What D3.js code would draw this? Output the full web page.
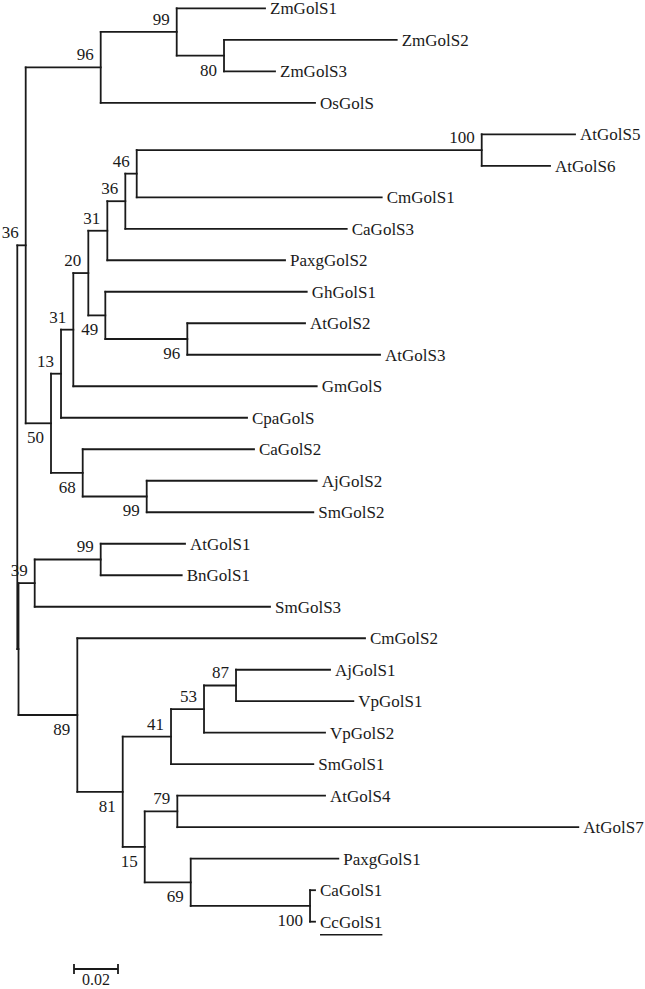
<!DOCTYPE html>
<html><head><meta charset="utf-8">
<script src="https://cdn.jsdelivr.net/npm/d3@7"></script>
<style>body{margin:0;background:#fff}</style>
</head><body>
<svg id="chart" width="645" height="989"></svg>
<script>
// Tree data (preorder): node id, parent id, branch length (substitutions/site), bootstrap
const nodeIds = ["root","n36a","n96a","n99a","ZmGolS1","n80","ZmGolS2","ZmGolS3","OsGolS",
  "n50","n13","n31b","n20","n31a","n36b","n46","n100a","AtGolS5","AtGolS6","CmGolS1","CaGolS3","PaxgGolS2",
  "n49","GhGolS1","n96b","AtGolS2","AtGolS3","GmGolS","CpaGolS","n68","CaGolS2","n99b","AjGolS2","SmGolS2",
  "nB","n39","n99c","AtGolS1","BnGolS1","SmGolS3","n89","CmGolS2","n81","n41","n53","n87","AjGolS1","VpGolS1",
  "VpGolS2","SmGolS1","n15","n79","AtGolS4","AtGolS7","n69","PaxgGolS1","n100b","CaGolS1","CcGolS1"];
const parentIds = ["","root","n36a","n96a","n99a","n99a","n80","n80","n96a",
  "n36a","n50","n13","n31b","n20","n31a","n36b","n46","n100a","n100a","n46","n36b","n31a",
  "n20","n49","n49","n96b","n96b","n31b","n13","n50","n68","n68","n99b","n99b",
  "root","nB","n39","n99c","n99c","n39","nB","n89","n89","n81","n41","n53","n87","n87",
  "n53","n41","n81","n15","n79","n79","n15","n69","n69","n100b","n100b"];
const branchLengths = [0,0.00382,0.03409,0.03455,0.04014,0.0215,0.0785,0.02318,0.09741,
  0.0115,0.00455,0.00559,0.00682,0.00864,0.00818,0.00518,0.15682,0.04241,0.03105,0.11136,0.10064,0.08077,
  0.00773,0.09155,0.03727,0.0535,0.08759,0.11064,0.08455,0.01441,0.07786,0.02909,0.07727,0.07573,
  0.00055,0.00736,0.03,0.03832,0.03682,0.10695,0.02673,0.13077,0.02064,0.02195,0.015,0.01455,0.04273,0.05332,
  0.055,0.06468,0.01,0.01482,0.06714,0.18227,0.02091,0.06709,0.05423,0.00227,0.00227];
const bootstraps = [null,36,96,99,null,80,null,null,null,
  50,13,31,20,31,36,46,100,null,null,null,null,null,
  49,null,96,null,null,null,null,68,null,99,null,null,
  null,39,99,null,null,null,89,null,81,41,53,87,null,null,
  null,null,15,79,null,null,69,null,100,null,null];
const underlinedLabels = ["CcGolS1"];
const scaleBarValue = 0.02;
const scaleBarLabel = "0.02";

const rows = nodeIds.map((id,i)=>({id, parent: parentIds[i] || null, len: branchLengths[i], bs: bootstraps[i]}));
const root = d3.stratify().id(d=>d.id).parentId(d=>d.parent)(rows);

const x = d3.scaleLinear().domain([0, scaleBarValue]).range([17.3, 17.3 + 44]);
const leaves = root.leaves();
const y = d3.scalePoint().domain(leaves.map(d=>d.id)).range([8.3, 921.7]);

root.eachBefore(n => { n.dist = n.parent ? n.parent.dist + n.data.len : 0; n.px = x(n.dist); });
root.eachAfter(n => {
  if (!n.children) n.py = y(n.id);
  else n.py = (n.children[0].py + n.children[n.children.length-1].py) / 2;
});

const svg = d3.select("#chart");
const ink = "#1a1a1a";
const g = svg.append("g");

g.selectAll("path.h").data(root.descendants().filter(n=>n.parent)).join("path")
  .attr("d", n => `M${n.parent.px},${n.py}H${n.px}`)
  .attr("stroke", ink).attr("stroke-width", 1.8).attr("fill","none").attr("stroke-linecap","square");
g.selectAll("path.v").data(root.descendants().filter(n=>n.children)).join("path")
  .attr("d", n => `M${n.px},${n.children[0].py}V${n.children[n.children.length-1].py}`)
  .attr("stroke", ink).attr("stroke-width", 1.8).attr("fill","none").attr("stroke-linecap","square");

const font = "'Liberation Serif','Times New Roman',Times,serif";
const lbl = g.selectAll("text.leaf").data(leaves).join("text")
  .attr("x", n => n.px + 5).attr("y", n => n.py + 6)
  .attr("font-family", font).attr("font-size", 17).attr("fill", ink)
  .text(n => n.id);
lbl.filter(n => underlinedLabels.includes(n.id)).each(function(n){
  const w = this.getComputedTextLength();
  g.append("line").attr("x1", n.px + 5).attr("x2", n.px + 5 + w)
    .attr("y1", n.py + 13).attr("y2", n.py + 13)
    .attr("stroke", ink).attr("stroke-width", 1.4);
});

g.selectAll("text.bs").data(root.descendants().filter(n=>n.parent && n.data.bs != null)).join("text")
  .attr("x", n => n.px - 7)
  .attr("y", n => n.py + (n.parent.children[0] === n ? -13 : 14) + 6)
  .attr("text-anchor","end")
  .attr("font-family", font).attr("font-size", 17).attr("fill", ink)
  .text(n => n.data.bs);

const sbX0 = 74, sbW = x(scaleBarValue) - x(0), sbY = 969;
const sb = svg.append("g");
sb.append("path").attr("d", `M${sbX0},${sbY}H${sbX0+sbW}M${sbX0},${sbY-5}V${sbY+5}M${sbX0+sbW},${sbY-5}V${sbY+5}`)
  .attr("stroke", ink).attr("stroke-width", 1.8).attr("fill","none");
sb.append("text").attr("x", sbX0 + sbW/2).attr("y", 985).attr("text-anchor","middle")
  .attr("font-family", font).attr("font-size", 16).attr("fill", ink).text(scaleBarLabel);
</script>
</body></html>
